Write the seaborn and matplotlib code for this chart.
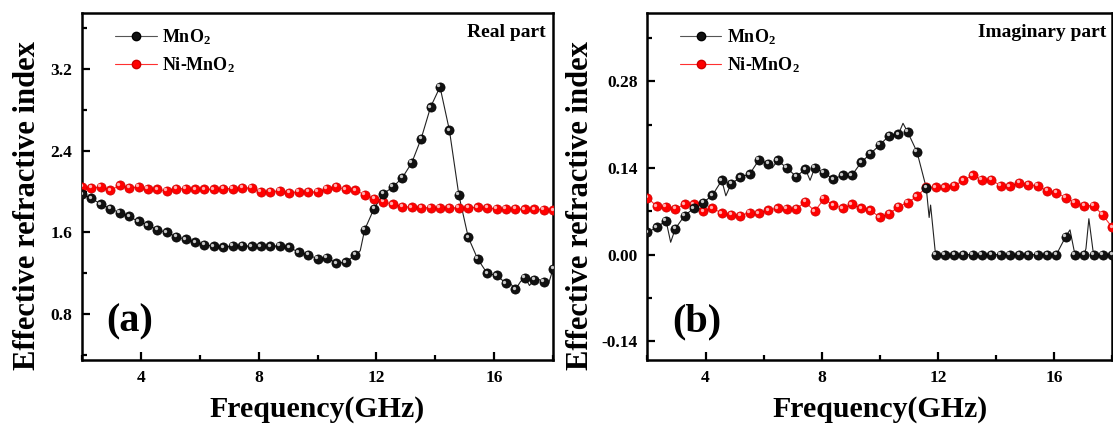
import numpy as np
import pandas as pd
import matplotlib
matplotlib.use("Agg")
import matplotlib.pyplot as plt
import matplotlib.transforms as mtrans
from matplotlib.ticker import MultipleLocator, FormatStrFormatter
import seaborn as sns

# ---------------- data ----------------
freq = [round(2 + 0.32 * i, 2) for i in range(51)]

mno2_real = [1.974, 1.935, 1.876, 1.834, 1.792, 1.756, 1.707, 1.671, 1.626, 1.600,
             1.558, 1.532, 1.503, 1.480, 1.464, 1.454, 1.467, 1.470, 1.464, 1.464,
             1.464, 1.467, 1.454, 1.405, 1.382, 1.340, 1.353, 1.298, 1.308, 1.379,
             1.626, 1.834, 1.980, 2.045, 2.136, 2.282, 2.519, 2.828, 3.026, 2.600,
             1.967, 1.551, 1.340, 1.200, 1.178, 1.103, 1.041, 1.158, 1.136, 1.119,
             1.243]
nimno2_real = [2.045, 2.035, 2.045, 2.012, 2.061, 2.035, 2.045, 2.029, 2.022, 2.006,
               2.029, 2.029, 2.022, 2.022, 2.022, 2.029, 2.029, 2.035, 2.035, 1.999,
               1.999, 2.006, 1.990, 1.996, 1.996, 1.996, 2.029, 2.045, 2.022, 2.012,
               1.970, 1.931, 1.899, 1.876, 1.853, 1.847, 1.844, 1.840, 1.844, 1.840,
               1.840, 1.840, 1.847, 1.840, 1.831, 1.831, 1.831, 1.827, 1.827, 1.824,
               1.818]
mno2_imag = [0.036, 0.044, 0.055, 0.042, 0.063, 0.075, 0.084, 0.096, 0.120, 0.114,
             0.125, 0.130, 0.153, 0.147, 0.152, 0.140, 0.126, 0.138, 0.140, 0.132,
             0.122, 0.128, 0.128, 0.149, 0.163, 0.177, 0.192, 0.194, 0.198, 0.166,
             0.108, 0.000, 0.000, 0.000, 0.000, 0.000, 0.000, 0.000, 0.000, 0.000,
             0.000, 0.000, 0.000, 0.000, 0.000, 0.029, 0.000, 0.000, 0.000, 0.000,
             0.000]
nimno2_imag = [0.092, 0.078, 0.077, 0.074, 0.081, 0.081, 0.070, 0.075, 0.067, 0.064,
               0.063, 0.068, 0.067, 0.072, 0.075, 0.074, 0.074, 0.085, 0.070, 0.090,
               0.080, 0.075, 0.081, 0.075, 0.072, 0.060, 0.066, 0.077, 0.084, 0.094,
               0.109, 0.109, 0.109, 0.111, 0.120, 0.128, 0.121, 0.121, 0.111, 0.110,
               0.116, 0.113, 0.111, 0.103, 0.100, 0.092, 0.084, 0.079, 0.079, 0.064,
               0.044]

# a few visible noise spikes on the thin MnO2 trace (line only, no marker)
spike_real_x = [11.45, 16.55, 16.9, 17.2, 17.5, 17.85]
spike_real_y = [1.42, 1.10, 1.12, 1.08, 1.14, 1.10]
spike_imag_x = [2.8, 4.7, 6.3, 7.6, 10.8, 11.7, 11.75, 16.55, 17.1, 17.2]
spike_imag_y = [0.020, 0.095, 0.140, 0.120, 0.212, 0.060, 0.080, 0.040, 0.010, 0.058]

labels = ["MnO$_\\mathbf{2}$", "Ni-MnO$_\\mathbf{2}$"]

# ---------------- style ----------------
sns.set_theme(style="ticks")
plt.rcParams["font.family"] = ["Liberation Serif", "DejaVu Serif"]
plt.rcParams["font.weight"] = "bold"
plt.rcParams["mathtext.fontset"] = "custom"
plt.rcParams["mathtext.rm"] = "Liberation Serif:bold"
plt.rcParams["mathtext.bf"] = "Liberation Serif:bold"
plt.rcParams["mathtext.it"] = "Liberation Serif:bold"
for k in ("text.color", "axes.labelcolor", "xtick.color", "ytick.color",
          "axes.edgecolor"):
    plt.rcParams[k] = "black"

fig = plt.figure(figsize=(11.13, 4.32), dpi=100)
ax1 = fig.add_axes([0.0737, 0.1667, 0.4232, 0.8032])
ax2 = fig.add_axes([0.5817, 0.1667, 0.4175, 0.8032])


def merged(x, y, sx, sy):
    xs = list(x) + list(sx)
    ys = list(y) + list(sy)
    order = np.argsort(xs, kind="stable")
    return [xs[i] for i in order], [ys[i] for i in order]


def draw(ax, y_black, y_red, sx, sy):
    lx, ly = merged(freq, y_black, sx, sy)
    sns.lineplot(x=lx, y=ly, ax=ax, color="#222222", lw=0.8, sort=False,
                 estimator=None)
    sns.lineplot(x=freq, y=y_red, ax=ax, color="#ff3030", lw=0.8, sort=False,
                 estimator=None)
    ax.plot(freq, y_red, ls="none", marker="o", ms=6.6, mfc="#ff0000",
            mec="#cc0000", mew=0.5, zorder=3)
    ax.plot(freq, y_black, ls="none", marker="o", ms=6.6, mfc="#111111",
            mec="#000000", mew=0.5, zorder=4)
    off = mtrans.offset_copy(ax.transData, fig=fig, x=-1.1, y=1.1, units="points")
    ax.plot(freq, y_red, ls="none", marker="o", ms=2.4, mfc="#ffb0b0",
            mec="none", transform=off, zorder=3.5)
    ax.plot(freq, y_black, ls="none", marker="o", ms=2.4, mfc="#c8c8c8",
            mec="none", transform=off, zorder=4.5)

    # legend proxies
    hb, = ax.plot([], [], color="#555555", lw=0.8, marker="o", ms=6,
                  mfc="#111111", mec="#000000")
    hr, = ax.plot([], [], color="#ff3030", lw=0.8, marker="o", ms=6,
                  mfc="#ff0000", mec="#cc0000")
    ax.legend([hb, hr], labels, loc="upper left", bbox_to_anchor=(0.07, 0.958),
              frameon=False, borderpad=0, borderaxespad=0, handlelength=2.3,
              handletextpad=0.3, labelspacing=0.42,
              prop={"family": "Liberation Serif", "weight": "bold", "size": 13})

    ax.set_xlim(2, 18)
    ax.xaxis.set_major_locator(MultipleLocator(4))
    ax.xaxis.set_minor_locator(MultipleLocator(2))
    ax.tick_params(which="both", direction="in", width=1.6, labelsize=12.5,
                   top=False, right=False, colors="black")
    ax.tick_params(which="major", length=6, pad=7)
    ax.tick_params(which="minor", length=3.5)
    for s in ax.spines.values():
        s.set_linewidth(1.8)
        s.set_color("black")
        s.set_visible(True)
    ax.set_xlabel("Frequency(GHz)", fontsize=21.5, fontweight="bold",
                  color="black")
    ax.set_ylabel("Effective refractive index", fontsize=22, fontweight="bold",
                  color="black")
    ax.xaxis.set_label_coords(0.5, -0.105)


draw(ax1, mno2_real, nimno2_real, spike_real_x, spike_real_y)
ax1.set_ylim(0.35, 3.75)
ax1.yaxis.set_major_locator(MultipleLocator(0.8))
ax1.yaxis.set_minor_locator(MultipleLocator(0.4))
ax1.yaxis.set_major_formatter(FormatStrFormatter("%.1f"))
ax1.yaxis.set_label_coords(-0.085, 0.445)
ax1.text(0.985, 0.945, "Real part", transform=ax1.transAxes, ha="right",
         va="center", fontsize=14, fontweight="bold")
ax1.text(0.052, 0.11, "(a)", transform=ax1.transAxes, ha="left",
         va="center", fontsize=29, fontweight="bold")

draw(ax2, mno2_imag, nimno2_imag, spike_imag_x, spike_imag_y)
ax2.set_ylim(-0.17, 0.39)
ax2.yaxis.set_major_locator(MultipleLocator(0.14))
ax2.yaxis.set_minor_locator(MultipleLocator(0.07))
ax2.yaxis.set_major_formatter(FormatStrFormatter("%.2f"))
ax2.yaxis.set_label_coords(-0.112, 0.445)
ax2.text(0.987, 0.945, "Imaginary part", transform=ax2.transAxes, ha="right",
         va="center", fontsize=14, fontweight="bold")
ax2.text(0.054, 0.11, "(b)", transform=ax2.transAxes, ha="left",
         va="center", fontsize=29, fontweight="bold")

for ax in (ax1, ax2):
    for lab in ax.get_xticklabels() + ax.get_yticklabels():
        lab.set_fontweight("bold")
        lab.set_color("black")

fig.savefig("out.png", dpi=100)
